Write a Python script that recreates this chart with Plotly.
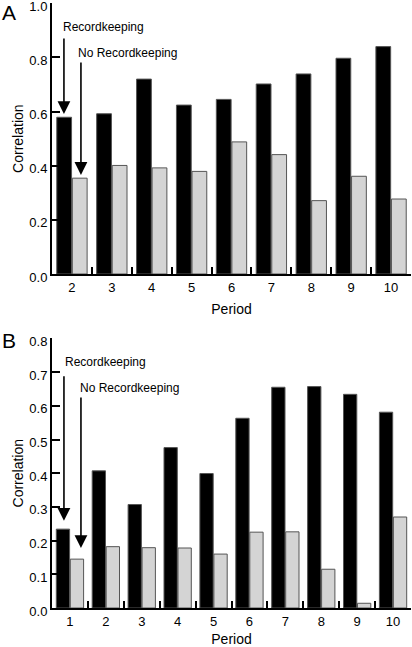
import plotly.graph_objects as go

# Panel A data
periods_a = ["2", "3", "4", "5", "6", "7", "8", "9", "10"]
record_a = [0.579, 0.592, 0.720, 0.624, 0.645, 0.702, 0.739, 0.797, 0.840]
norecord_a = [0.354, 0.401, 0.392, 0.379, 0.488, 0.441, 0.271, 0.361, 0.277]

# Panel B data
periods_b = ["1", "2", "3", "4", "5", "6", "7", "8", "9", "10"]
record_b = [0.234, 0.407, 0.307, 0.476, 0.399, 0.563, 0.655, 0.657, 0.634, 0.581]
norecord_b = [0.145, 0.182, 0.179, 0.178, 0.160, 0.225, 0.226, 0.115, 0.014, 0.270]

W, H = 412, 647
FONT = "Liberation Sans, Arial, sans-serif"
BLACK_FILL = "#000000"
GRAY_FILL = "#d4d4d4"
EDGE = "#555555"

fig = go.Figure()
fig.add_trace(go.Bar(x=periods_a, y=record_a, marker=dict(color=BLACK_FILL, line=dict(color=EDGE, width=1)),
                     xaxis="x", yaxis="y", showlegend=False, name="Recordkeeping"))
fig.add_trace(go.Bar(x=periods_a, y=norecord_a, marker=dict(color=GRAY_FILL, line=dict(color=EDGE, width=1)),
                     xaxis="x", yaxis="y", showlegend=False, name="No Recordkeeping"))
fig.add_trace(go.Bar(x=periods_b, y=record_b, marker=dict(color=BLACK_FILL, line=dict(color=EDGE, width=1)),
                     xaxis="x2", yaxis="y2", showlegend=False, name="Recordkeeping"))
fig.add_trace(go.Bar(x=periods_b, y=norecord_b, marker=dict(color=GRAY_FILL, line=dict(color=EDGE, width=1)),
                     xaxis="x2", yaxis="y2", showlegend=False, name="No Recordkeeping"))

xdom = [52 / W, 411 / W]
ya_dom = [1 - 274 / H, 1 - 3.3 / H]
yb_dom = [1 - 608 / H, 1 - 338.4 / H]

xcommon = dict(type="category", showline=True, linecolor="black", linewidth=2, automargin=False,
               ticks="inside", tickson="boundaries", ticklen=7, tickwidth=2, tickcolor="black",
               showgrid=False, zeroline=False, tickfont=dict(size=13, color="black"),
               ticklabeloverflow="allow",
               title=dict(text="Period", font=dict(size=14, color="black"), standoff=11))
ycommon = dict(showline=True, linecolor="black", linewidth=2, ticks="inside", ticklen=8, automargin=False,
               tickwidth=2, tickcolor="black", showgrid=False, zeroline=False,
               tickformat=".1f", tickfont=dict(size=13, color="black"),
               ticklabeloverflow="allow", ticklabelshift=3,
               title=dict(text="Correlation", font=dict(size=14, color="black"), standoff=2))

fig.update_layout(
    width=W, height=H,
    margin=dict(l=0, r=0, t=0, b=0, autoexpand=False),
    paper_bgcolor="white", plot_bgcolor="white",
    font=dict(family=FONT, color="black"),
    barmode="group", bargap=0.22, bargroupgap=0.05,
    xaxis=dict(domain=xdom, anchor="y", range=[-0.5, len(periods_a) - 0.5], **xcommon),
    yaxis=dict(domain=ya_dom, anchor="x", range=[0, 1.0], dtick=0.2, **ycommon),
    xaxis2=dict(domain=xdom, anchor="y2", range=[-0.5, len(periods_b) - 0.5], **xcommon),
    yaxis2=dict(domain=yb_dom, anchor="x2", range=[0, 0.8], dtick=0.1, **ycommon),
)

ann = []
# panel letters
ann.append(dict(text="A", xref="paper", yref="paper", x=0 / W, y=1 - 12 / H, xanchor="left", yanchor="middle",
                showarrow=False, font=dict(size=21, color="black")))
ann.append(dict(text="B", xref="paper", yref="paper", x=0 / W, y=1 - 340 / H, xanchor="left", yanchor="middle",
                showarrow=False, font=dict(size=21, color="black")))

def label(txt, px, py):
    ann.append(dict(text=txt, xref="paper", yref="paper", x=px / W, y=1 - py / H,
                    xanchor="left", yanchor="middle", showarrow=False, font=dict(size=12, color="black")))

def arrow(xr, yr, xidx, yval, xshift, length):
    ann.append(dict(text="", xref=xr, yref=yr, x=xidx, y=yval, xshift=xshift, showarrow=True,
                    ax=0, ay=-length, arrowhead=2, arrowsize=1.6, arrowwidth=1.6, arrowcolor="black", standoff=0))

label("Recordkeeping", 61, 27)
label("No Recordkeeping", 76, 53)
arrow("x", "y", 0, 0.591, -8, 77)
arrow("x", "y", 0, 0.366, 9, 114)

label("Recordkeeping", 63, 362)
label("No Recordkeeping", 78, 388)
arrow("x2", "y2", 0, 0.259, -6, 146)
arrow("x2", "y2", 0, 0.178, 11, 152)

fig.update_layout(annotations=ann)
fig.write_html("out.html", config={"displayModeBar": False},
               post_script="document.body.style.margin='0';document.body.style.overflow='hidden';")
